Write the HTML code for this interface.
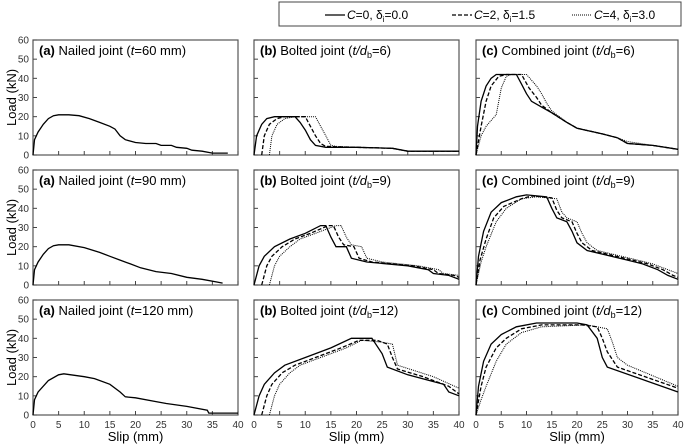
<!DOCTYPE html>
<html><head><meta charset="utf-8"><style>
body{margin:0;background:#fff;}
svg{display:block;font-family:"Liberation Sans",sans-serif;}
</style></head><body>
<svg id="chart" width="685" height="447" viewBox="0 0 685 447">
<g>
<rect x="279" y="2" width="402" height="24" fill="#fff" stroke="#444" stroke-width="1"/>
<line x1="325" y1="15" x2="345" y2="15" stroke="#000" stroke-width="1.2"/>
<text x="347" y="19" font-size="12"><tspan font-style="italic">C</tspan>=0,  δ<tspan font-size="8" dy="3">i</tspan><tspan dy="-3">=0.0</tspan></text>
<line x1="452" y1="15" x2="472" y2="15" stroke="#000" stroke-width="1.2" stroke-dasharray="4,2"/>
<text x="474" y="19" font-size="12"><tspan font-style="italic">C</tspan>=2,  δ<tspan font-size="8" dy="3">i</tspan><tspan dy="-3">=1.5</tspan></text>
<line x1="572" y1="15" x2="592" y2="15" stroke="#000" stroke-width="1" stroke-dasharray="1,1"/>
<text x="594" y="19" font-size="12"><tspan font-style="italic">C</tspan>=4,  δ<tspan font-size="8" dy="3">i</tspan><tspan dy="-3">=3.0</tspan></text>
</g>
</svg>
<script>
const xTicks=[0,5,10,15,20,25,30,35,40];
const yTicks=[0,10,20,30,40,50,60];
const panelTitles=[
 ["(a)","Nailed joint (","t","=60 mm)"],["(b)","Bolted joint (","t/d","b","=6)"],["(c)","Combined joint (","t/d","b","=6)"],
 ["(a)","Nailed joint (","t","=90 mm)"],["(b)","Bolted joint (","t/d","b","=9)"],["(c)","Combined joint (","t/d","b","=9)"],
 ["(a)","Nailed joint (","t","=120 mm)"],["(b)","Bolted joint (","t/d","b","=12)"],["(c)","Combined joint (","t/d","b","=12)"]];
const nail60=[[0,0],[0.3,8],[1,12],[2,16],[3,19],[4,20.5],[5,21],[7,21],[9,20.5],[11,19],[13,17],[15,15],[16,13.5],[17,10],[18,8],[20,6.5],[22,6],[24,6],[25,5],[27,5],[28,4],[30,3.5],[31,2.5],[33,2],[35,1],[38,1]];
const nail90=[[0,0],[0.3,8],[1,12],[2,16],[3,19],[4,20.5],[5,21],[7,21],[10,19.5],[13,17],[15,15],[17,13],[19,11],[21,9],[24,7],[27,6],[30,4],[33,3],[36,1.5],[37,1]];
const nail120=[[0,0],[0.3,8],[1,12],[3,18],[5,21],[6,21.5],[10,20],[12,19],[15,16],[17,12],[18,9.5],[20,9],[24,7],[26,6],[30,4.5],[34,2.5],[34.3,1],[40,1]];
const bolt6c0=[[0,0],[0.5,10],[1.5,16],[2.5,19],[4,20],[8,20],[9,17],[10,13],[11,8],[12,5],[14,4],[20,4],[27,3.5],[30,2],[40,2]];
const bolt6c2=[[1.5,0],[2,10],[3,16],[4.5,19],[6,20],[10,20],[11,15],[12,10],[13,6],[14,4.5],[20,4],[27,3.5],[30,2],[40,2]];
const bolt6c4=[[3,0],[3.5,10],[4.5,16],[6,19],[8,20],[12,20],[13,15],[14,10],[15,5],[16,4.5],[20,4],[27,3.5],[30,2],[40,2]];
const comb6c0=[[0,0],[0.3,15],[1,28],[2,36],[3,40],[4,42],[8,42],[9,37],[10,32],[11,28],[13,25],[15,22],[18,17],[20,14],[25,11],[28,9],[30,6],[35,5],[40,3]];
const comb6c2=[[0,0],[1,15],[2,28],[3,36],[4.5,41],[6,42],[9,42],[10.5,35],[12,30],[13,26],[15,22],[18,17],[20,14],[25,11],[28,9],[30,6],[35,5],[40,3]];
const comb6c4=[[0,0],[1,10],[2,15],[3,18],[4,21],[5,35],[6,41],[7,42],[10,42],[12,36],[13,32],[14,27],[15,23],[18,17],[20,14],[25,11],[28,9],[30,7],[35,5],[40,3]];
const bolt9c0=[[0,0],[1,10],[2,15],[4,20],[7,24],[10,27],[13,31],[14,31],[15,25],[16,20],[18,20],[19,14],[22,12],[30,10],[34,8],[35,6],[38,5],[40,3]];
const bolt9c2=[[1.5,0],[2.5,10],[3.5,15],[5.5,20],[8,24],[11,27],[14.5,31],[15.5,31],[16.5,25],[17.5,21],[19.5,20],[20.5,14],[23,12],[31,10],[35,8],[36,6],[39,5],[40,4]];
const bolt9c4=[[3,0],[4,10],[5,15],[7,20],[9,24],[12,27],[16,31],[17,31],[18,25],[19,21],[21,20],[22,14],[25,12],[32,10],[36,8],[37,6],[40,5]];
const comb9c0=[[0,0],[0.5,15],[1.5,28],[3,38],[5,43],[8,46],[10,47],[14,46],[15,40],[16,35],[18,33],[19,28],[20,22],[22,18],[30,13],[33,11],[36,8],[38,5],[40,3]];
const comb9c2=[[0,0],[0.8,13],[2,24],[3.5,35],[5.5,41],[9,45],[11,46.5],[15,45.5],[16,39],[17,35],[19,33],[20,27],[21,22],[23,18],[31,13],[34,11],[37,8],[39,5],[40,4]];
const comb9c4=[[0,0],[1,12],[2,20],[4,33],[6,40],[9,45],[12,46],[16,45],[17,38],[18,35],[20,33],[21,27],[22,22],[24,18],[32,13],[35,11],[38,8],[40,6]];
const bolt12c0=[[0,0],[1,10],[2,16],[4,22],[6,26],[10,30],[15,35],[19,40],[23,40],[25,32],[26,25],[30,21],[37,16],[38,12],[40,10]];
const bolt12c2=[[1.5,0],[2.5,10],[3.5,16],[5.5,22],[8,26],[12,30],[17,35],[20.5,39],[24,39],[26,37],[27,30],[28,24],[33,20],[38,15],[40,11]];
const bolt12c4=[[3,0],[4,10],[5,16],[7,22],[9,26],[13,30],[18,35],[21,39],[25,38],[27,37],[28,26],[35,20],[40,14]];
const comb12c0=[[0,0],[0.5,15],[1.5,28],[3,37],[5,42],[8,46],[12,48],[20,48],[22,47],[24,40],[25,30],[26,25],[40,12]];
const comb12c2=[[0,0],[1,15],[2,25],[4,35],[6,40],[9,45],[13,47],[21,47],[24,46],[25,40],[26,33],[28,25],[40,14]];
const comb12c4=[[0,0],[1,8],[2,15],[4,28],[6,37],[9,43],[13,46],[22,47],[26,45],[27,38],[28,30],[30,26],[40,15]];
const panelSeries=[[nail60],[bolt6c0,bolt6c2,bolt6c4],[comb6c0,comb6c2,comb6c4],
 [nail90],[bolt9c0,bolt9c2,bolt9c4],[comb9c0,comb9c2,comb9c4],
 [nail120],[bolt12c0,bolt12c2,bolt12c4],[comb12c0,comb12c2,comb12c4]];
const NS='http://www.w3.org/2000/svg';
const svg=document.getElementById('chart');
const colsX=[[33,238],[254,459],[476,678]];
const rowsY=[[40,155],[170,285],[300,415]];
const dashes=['none','4,2','1,1'];
function mk(t,a,p){const e=document.createElementNS(NS,t);for(const k in a)e.setAttribute(k,a[k]);(p||svg).appendChild(e);return e;}
for(let r=0;r<3;r++)for(let c=0;c<3;c++){
 const [x0,x1]=colsX[c],[y0,y1]=rowsY[r];
 const sx=v=>x0+(x1-x0)*v/40, sy=v=>y1-(y1-y0)*v/60;
 const g=mk('g',{});
 
 
 const box=mk('rect',{x:x0,y:y0,width:x1-x0,height:y1-y0,fill:'none',stroke:'#555','stroke-width':1.2},g);
 
 
 xTicks.forEach(t=>{mk('line',{x1:sx(t),x2:sx(t),y1:y1,y2:y1-4,stroke:'#444'},g);
  if(r==2){const tx=mk('text',{x:sx(t),y:y1+13,'font-size':10,'text-anchor':'middle',fill:'#333'},g);tx.textContent=t;
   
   }});
 yTicks.forEach(t=>{mk('line',{x1:x0,x2:x0+4,y1:sy(t),y2:sy(t),stroke:'#444'},g);
  if(c==0){const ty=mk('text',{x:x0-4,y:sy(t)+3.5,'font-size':10,'text-anchor':'end',fill:'#333'},g);ty.textContent=t;
   
   }});
 const pt=panelTitles[r*3+c];
 const tt=mk('text',{x:x0+6,y:y0+15,'font-size':13},g);
 
 
 let h='<tspan font-weight="bold">'+pt[0]+'</tspan>  '+pt[1]+'<tspan font-style="italic">'+pt[2]+'</tspan>';
 if(pt.length==5)h+='<tspan font-size="9" dy="3">'+pt[3]+'</tspan><tspan dy="-3">'+pt[4]+'</tspan>';else h+=pt[3];
 tt.innerHTML=h;
 panelSeries[r*3+c].forEach((s,i)=>{
  const d=s.map((p,j)=>(j?'L':'M')+sx(p[0]).toFixed(1)+','+sy(p[1]).toFixed(1)).join('');
  const pa=mk('path',{d:d,fill:'none',stroke:'#000','stroke-width':i==2?1:1.3,'stroke-dasharray':dashes[i]},g);
  
  
 });
 if(r==2){const xl=mk('text',{x:(x0+x1)/2,y:441,'font-size':13,'text-anchor':'middle'},g);xl.textContent='Slip (mm)';
  
  }
 if(c==0){const yl=mk('text',{x:0,y:0,'font-size':13,'text-anchor':'middle',transform:'translate(16,'+((y0+y1)/2)+') rotate(-90)'},g);yl.textContent='Load (kN)';
  
  }
}
</script>
</body></html>
